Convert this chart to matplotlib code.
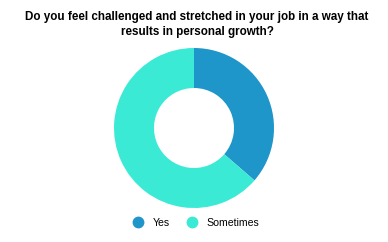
import matplotlib
matplotlib.use('Agg')
import matplotlib.pyplot as plt
from matplotlib.lines import Line2D

# answers and counts
labels = ['Yes', 'Sometimes']
counts = [4, 7]
colors = ['#1f96c9', '#3aead5']

plt.rcParams['font.family'] = ['Liberation Sans', 'DejaVu Sans']

fig = plt.figure(figsize=(3.88, 2.42), dpi=100)

# donut, centre about (194,128) px, outer radius 80 px
ax = fig.add_axes([(194 - 80) / 388, (242 - 208) / 242, 160 / 388, 160 / 242])
ax.pie(counts, colors=colors, startangle=90, counterclock=False,
       wedgeprops=dict(width=0.5, edgecolor='none'))
ax.set_xlim(-1, 1)
ax.set_ylim(-1, 1)
ax.set_aspect('equal')
ax.axis('off')

fig.text(197 / 388, 1 - 24.5 / 242,
         'Do you feel challenged and stretched in your job in a way that\nresults in personal growth?',
         ha='center', va='center', fontsize=8.4, fontweight='bold', linespacing=1.4)

handles = [Line2D([], [], marker='o', linestyle='none', markersize=8.5,
                  markerfacecolor=c, markeredgecolor='none') for c in colors]
fig.legend(handles, labels, loc='center', bbox_to_anchor=(196 / 388, 1 - 223 / 242),
           ncol=2, frameon=False, fontsize=7.6, handletextpad=0.9, columnspacing=1.6,
           handlelength=1.0)

fig.savefig('out.png', dpi=100)
